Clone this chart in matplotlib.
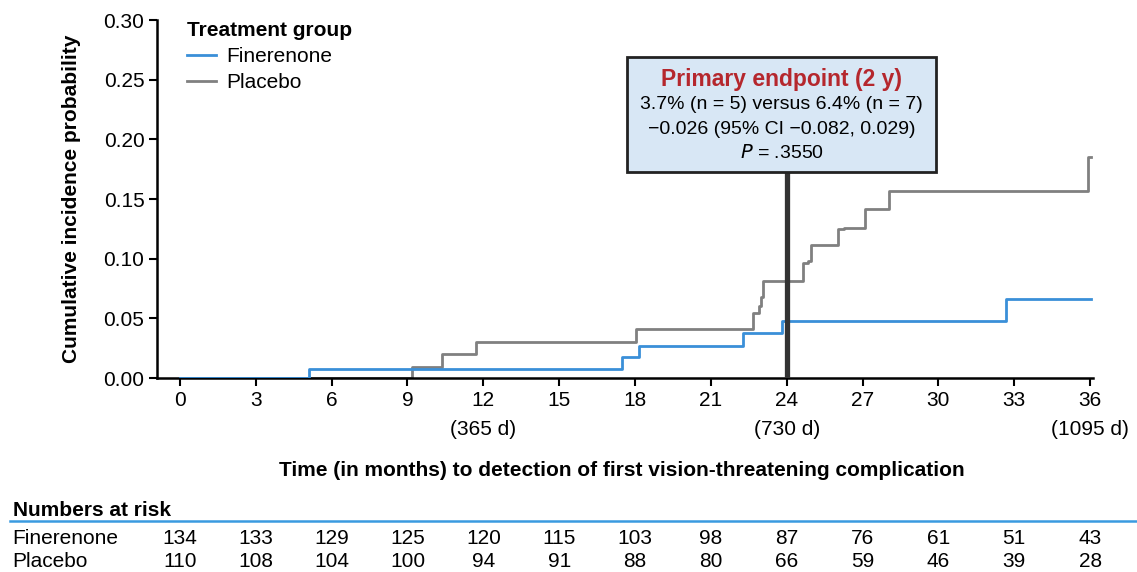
import matplotlib
matplotlib.use("Agg")
import matplotlib.pyplot as plt
from matplotlib.patches import Rectangle
from matplotlib.lines import Line2D
import matplotlib.transforms as mtransforms

plt.rcParams['font.family'] = ['Liberation Sans', 'DejaVu Sans']

# step curves (months, cumulative incidence)
fin_t = [0, 5.12, 17.5, 18.15, 22.26, 23.83, 32.69, 36.05]
fin_p = [0, 0.0075, 0.0175, 0.027, 0.038, 0.048, 0.066, 0.066]

pla_t = [0, 9.19, 10.35, 11.7, 18.04, 22.67, 22.9, 22.98, 23.05, 24.65, 24.85,
         24.97, 26.03, 26.26, 27.1, 28.04, 35.91, 36.05]
pla_p = [0, 0.0093, 0.020, 0.030, 0.041, 0.0546, 0.060, 0.068, 0.0814, 0.0965,
         0.098, 0.1113, 0.1247, 0.126, 0.1415, 0.157, 0.185, 0.185]

months = list(range(0, 37, 3))
day_labels = {12: "(365 d)", 24: "(730 d)", 36: "(1095 d)"}
risk_fin = [134, 133, 129, 125, 120, 115, 103, 98, 87, 76, 61, 51, 43]
risk_pla = [110, 108, 104, 100, 94, 91, 88, 80, 66, 59, 46, 39, 28]

blue = "#3a8fd8"
grey = "#808080"
fs = 15

fig = plt.figure(figsize=(11.37, 5.72), dpi=100)
ax = fig.add_axes([0.138, 0.339, 0.823, 0.626])

ax.step(fin_t, fin_p, where="post", color=blue, lw=2, zorder=3)
ax.step(pla_t, pla_p, where="post", color=grey, lw=2, zorder=2)

# primary endpoint marker + box
ax.plot([24, 24], [0, 0.1727], color="#333333", lw=3.8, zorder=5, solid_capstyle="butt")
ax.add_patch(Rectangle((17.7, 0.1727), 12.2, 0.0963, facecolor="#d8e7f5",
                       edgecolor="#222222", lw=2, zorder=6))
cx = 23.8
ax.text(cx, 0.2505, "Primary endpoint (2 y)", color="#b5272d", fontsize=16.5,
        fontweight="bold", ha="center", va="center", zorder=7)
ax.text(cx, 0.2295, "3.7% (n = 5) versus 6.4% (n = 7)", fontsize=14,
        ha="center", va="center", zorder=7)
ax.text(cx, 0.2079, "\u22120.026 (95% CI \u22120.082, 0.029)", fontsize=14,
        ha="center", va="center", zorder=7)
ax.text(cx, 0.1886, "$\\it{P}$ = .3550", fontsize=14, ha="center", va="center", zorder=7)

ax.set_xlim(-0.91, 36.1)
ax.set_ylim(0, 0.30)
ax.set_yticks([0, 0.05, 0.10, 0.15, 0.20, 0.25, 0.30])
ax.set_yticklabels(["0.00", "0.05", "0.10", "0.15", "0.20", "0.25", "0.30"])
ax.set_xticks(months)
ax.set_xticklabels([str(m) + ("\n" + day_labels[m] if m in day_labels else "") for m in months],
                   linespacing=1.7)
ax.tick_params(labelsize=fs, width=1.5, length=6, colors="black", pad=3)
for s in ["top", "right"]:
    ax.spines[s].set_visible(False)
for s in ["left", "bottom"]:
    ax.spines[s].set_linewidth(1.8)

ax.set_ylabel("Cumulative incidence probability", fontsize=fs, fontweight="bold", labelpad=16)

handles = [Line2D([], [], color=blue, lw=2), Line2D([], [], color=grey, lw=2)]
leg = ax.legend(handles, ["Finerenone", "Placebo"], title="Treatment group", loc="upper left",
                bbox_to_anchor=(0.012, 1.05), frameon=False, fontsize=fs, handlelength=1.4,
                handletextpad=0.5, labelspacing=0.35, alignment="left",
                title_fontproperties={"weight": "bold", "size": fs})

# x label and numbers-at-risk table
fig.text(0.547, 0.1766, "Time (in months) to detection of first vision-threatening complication",
         fontsize=fs, fontweight="bold", ha="center", va="center")
fig.text(0.011, 0.108, "Numbers at risk", fontsize=fs, fontweight="bold", va="center")
fig.add_artist(Line2D([0.009, 1.0], [0.089, 0.089], color="#3a9ae0", lw=1.8))

trans = mtransforms.blended_transform_factory(ax.transData, fig.transFigure)
fig.text(0.011, 0.0594, "Finerenone", fontsize=fs, va="center")
fig.text(0.011, 0.0175, "Placebo", fontsize=fs, va="center")
for m, a, b in zip(months, risk_fin, risk_pla):
    ax.text(m, 0.0594, str(a), transform=trans, fontsize=fs, ha="center", va="center", clip_on=False)
    ax.text(m, 0.0175, str(b), transform=trans, fontsize=fs, ha="center", va="center", clip_on=False)

fig.savefig("out.png", dpi=100)
